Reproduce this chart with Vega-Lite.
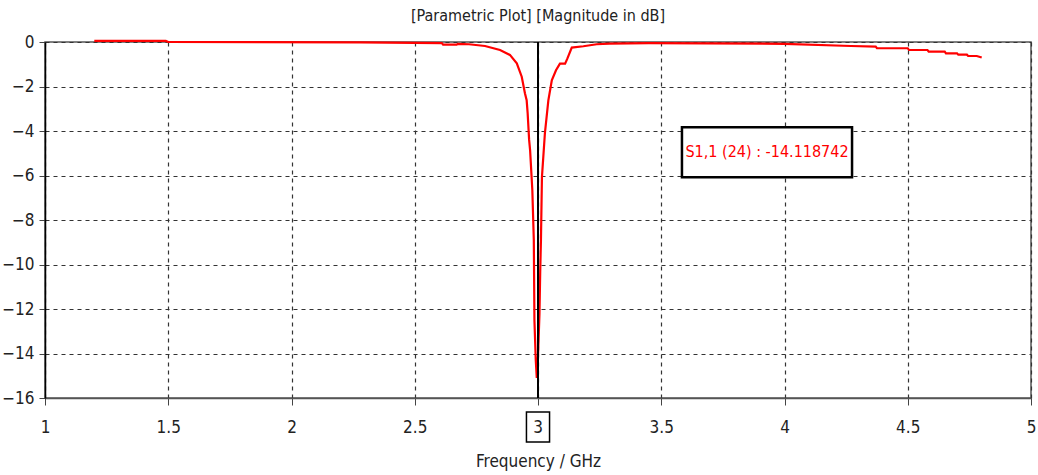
{
  "$schema": "https://vega.github.io/schema/vega-lite/v6.json",
  "width": 986,
  "height": 356,
  "autosize": {"type": "none"},
  "padding": {"left": 45, "top": 42, "right": 7, "bottom": 77},
  "background": "white",
  "config": {
    "view": {"stroke": "#555", "strokeWidth": 1.5},
    "font": "DejaVu Sans Condensed"
  },
  "title": {
    "text": "[Parametric Plot] [Magnitude in dB]",
    "fontSize": 16,
    "fontWeight": "normal",
    "color": "#222",
    "font": "DejaVu Sans Condensed",
    "anchor": "middle",
    "offset": 9
  },
  "datasets": {
    "s11": [
      {"f": 1.2, "db": 0.05},
      {"f": 1.49, "db": 0.05},
      {"f": 1.5, "db": 0.0},
      {"f": 2.28, "db": -0.02},
      {"f": 2.61, "db": -0.05},
      {"f": 2.615, "db": -0.12},
      {"f": 2.67, "db": -0.12},
      {"f": 2.675, "db": -0.08},
      {"f": 2.72, "db": -0.1},
      {"f": 2.785, "db": -0.18},
      {"f": 2.846, "db": -0.36},
      {"f": 2.886, "db": -0.58},
      {"f": 2.914, "db": -0.96},
      {"f": 2.934, "db": -1.56},
      {"f": 2.947, "db": -2.3},
      {"f": 2.954, "db": -2.62},
      {"f": 2.958, "db": -3.2},
      {"f": 2.964, "db": -4.4},
      {"f": 2.968, "db": -4.87},
      {"f": 2.977, "db": -6.66},
      {"f": 2.983, "db": -8.9},
      {"f": 2.9855, "db": -12.5},
      {"f": 2.991, "db": -14.3},
      {"f": 2.995, "db": -15.1},
      {"f": 3.0, "db": -14.12},
      {"f": 3.006, "db": -12.2},
      {"f": 3.009, "db": -10.3},
      {"f": 3.012, "db": -8.9},
      {"f": 3.016, "db": -6.07},
      {"f": 3.028, "db": -4.1},
      {"f": 3.042, "db": -2.62},
      {"f": 3.056, "db": -1.72},
      {"f": 3.073, "db": -1.27},
      {"f": 3.089, "db": -0.97},
      {"f": 3.11, "db": -0.97},
      {"f": 3.119, "db": -0.75},
      {"f": 3.137, "db": -0.25},
      {"f": 3.184, "db": -0.19},
      {"f": 3.238, "db": -0.1},
      {"f": 3.29, "db": -0.07},
      {"f": 3.45, "db": -0.05},
      {"f": 4.0, "db": -0.08},
      {"f": 4.27, "db": -0.18},
      {"f": 4.37, "db": -0.21},
      {"f": 4.375, "db": -0.28},
      {"f": 4.5, "db": -0.28},
      {"f": 4.505, "db": -0.36},
      {"f": 4.58, "db": -0.36},
      {"f": 4.585, "db": -0.43},
      {"f": 4.65, "db": -0.43},
      {"f": 4.655, "db": -0.51},
      {"f": 4.7, "db": -0.51},
      {"f": 4.705, "db": -0.57},
      {"f": 4.74, "db": -0.57},
      {"f": 4.745, "db": -0.63},
      {"f": 4.78, "db": -0.63},
      {"f": 4.8, "db": -0.7}
    ],
    "marker": [{"f": 3.0, "top": 0, "bottom": -16, "label": "3"}],
    "note": [{"x1": 3.584, "x2": 4.274, "y1": -3.83, "y2": -6.08, "xc": 3.929, "yc": -4.96, "label": "S1,1 (24) : -14.118742"}]
  },
  "layer": [
    {
      "data": {"name": "s11"},
      "mark": {"type": "line", "color": "#ff0000", "strokeWidth": 2.2, "interpolate": "linear"},
      "encoding": {
        "x": {
          "field": "f", "type": "quantitative",
          "scale": {"domain": [1, 5], "nice": false, "zero": false},
          "axis": {
            "values": [1, 1.5, 2, 2.5, 3, 3.5, 4, 4.5, 5],
            "title": "Frequency / GHz",
            "titleFontSize": 17,
            "titleFontWeight": "normal",
            "titleColor": "#222",
            "titleFont": "DejaVu Sans Condensed",
            "titlePadding": 18,
            "labelFontSize": 17,
            "labelColor": "#222",
            "labelFont": "DejaVu Sans Condensed",
            "labelPadding": 14,
            "labelExpr": "datum.value == 3 ? '' : format(datum.value, '~g')",
            "labelFlush": false,
            "domainColor": "#555",
            "domainWidth": 1.5,
            "tickColor": "#444",
            "tickSize": 7,
            "grid": true,
            "gridColor": "#333",
            "gridDash": [4, 4],
            "gridWidth": 1.2
          }
        },
        "y": {
          "field": "db", "type": "quantitative",
          "scale": {"domain": [-16, 0], "nice": false, "zero": false},
          "axis": {
            "values": [0, -2, -4, -6, -8, -10, -12, -14, -16],
            "title": null,
            "labelFontSize": 17,
            "labelColor": "#222",
            "labelFont": "DejaVu Sans Condensed",
            "labelPadding": 5,
            "domainColor": "#000",
            "domainWidth": 1.5,
            "tickColor": "#444",
            "tickSize": 6,
            "grid": true,
            "gridColor": "#333",
            "gridDash": [4, 4],
            "gridWidth": 1.2
          }
        }
      }
    },
    {
      "data": {"name": "marker"},
      "mark": {"type": "rule", "color": "#000", "strokeWidth": 2},
      "encoding": {
        "x": {"field": "f", "type": "quantitative"},
        "y": {"field": "top", "type": "quantitative"},
        "y2": {"field": "bottom"}
      }
    },
    {
      "data": {"name": "marker"},
      "mark": {"type": "point", "shape": "M-0.77,-1H0.77V1H-0.77Z", "size": 900, "filled": false, "stroke": "#000", "strokeWidth": 1.5, "yOffset": 29, "opacity": 1},
      "encoding": {
        "x": {"field": "f", "type": "quantitative"},
        "y": {"field": "bottom", "type": "quantitative"}
      }
    },
    {
      "data": {"name": "marker"},
      "mark": {"type": "text", "fontSize": 17, "font": "DejaVu Sans Condensed", "color": "#222", "baseline": "middle", "align": "center", "dy": 30},
      "encoding": {
        "x": {"field": "f", "type": "quantitative"},
        "y": {"field": "bottom", "type": "quantitative"},
        "text": {"field": "label"}
      }
    },
    {
      "data": {"name": "note"},
      "mark": {"type": "rect", "fill": "white", "stroke": "#000", "strokeWidth": 2.5},
      "encoding": {
        "x": {"field": "x1", "type": "quantitative"},
        "x2": {"field": "x2"},
        "y": {"field": "y1", "type": "quantitative"},
        "y2": {"field": "y2"}
      }
    },
    {
      "data": {"name": "note"},
      "mark": {"type": "text", "fontSize": 16, "font": "DejaVu Sans Condensed", "color": "#ff0000", "baseline": "middle", "align": "center"},
      "encoding": {
        "x": {"field": "xc", "type": "quantitative"},
        "y": {"field": "yc", "type": "quantitative"},
        "text": {"field": "label"}
      }
    }
  ]
}
